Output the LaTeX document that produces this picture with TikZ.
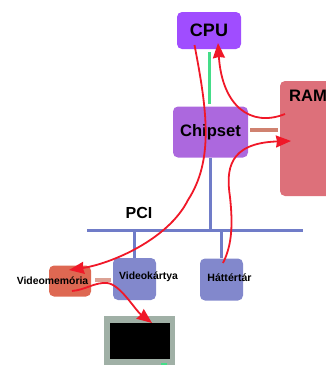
\documentclass[tikz,border=0pt]{standalone}
\usepackage{fontspec}
\setmainfont{Liberation Sans}
\usepackage{tikz}
\usetikzlibrary{arrows.meta}
\usepackage{xcolor}
\definecolor{cpuviolet}{RGB}{160,77,255}
\definecolor{chipviolet}{RGB}{172,104,222}
\definecolor{ramred}{RGB}{221,112,122}
\definecolor{cardblue}{RGB}{130,136,204}
\definecolor{busblue}{RGB}{112,124,200}
\definecolor{vmemred}{RGB}{222,104,82}
\definecolor{linkgreen}{RGB}{68,221,136}
\definecolor{linkorange}{RGB}{208,130,112}
\definecolor{framegray}{RGB}{160,176,166}
\definecolor{flowred}{RGB}{240,24,40}

\begin{document}
\begin{tikzpicture}[
  x=1pt, y=-1pt,
  box/.style={rounded corners=5pt, inner sep=0pt, font=\bfseries},
  lbl/.style={font=\bfseries, inner sep=0pt},
  bus/.style={busblue, line width=3pt},
  fsb/.style={linkgreen, line width=3pt},
  mem/.style={linkorange, line width=3.5pt},
  flow/.style={flowred, line width=1.8pt, -{Stealth[length=15pt,width=12pt,inset=1pt]}},
]
\useasboundingbox (0,0) rectangle (326,365);
%─── Boxes ───────────────────────────────────────────────
\node[box, fill=cpuviolet, minimum width=64pt, minimum height=37pt,
      font=\bfseries\fontsize{18}{18}\selectfont] (cpu) at (209,30.5) {CPU};
\node[box, fill=chipviolet, minimum width=75pt, minimum height=51pt,
      font=\bfseries\fontsize{16.6}{18}\selectfont] (chip) at (210.5,132) {Chipset};
\node[box, fill=ramred, minimum width=66pt, minimum height=115pt] (ram) at (313,138.5) {};
\node[lbl, anchor=base west, font=\bfseries\fontsize{16.6}{18}\selectfont] (ramlbl) at (289,101) {RAM};
\node[box, fill=cardblue, minimum width=43pt, minimum height=42pt] (vcard) at (134.5,279) {};
\node[box, fill=cardblue, minimum width=43pt, minimum height=42pt] (disk) at (221.5,279.5) {};
\node[box, fill=vmemred, minimum width=42pt, minimum height=31pt] (vmem) at (70,281) {};
%─── Bus ─────────────────────────────────────────────────
\coordinate (busl) at (87,230);
\coordinate (busr) at (303,230);
\coordinate (busc) at (210,230);
\coordinate (busv) at (134,230);
\coordinate (busd) at (221,230);
\draw[bus] (busl) -- (busr);
\draw[bus] (chip.south -| busc) -- (busc);
\draw[bus] (busv) -- (vcard.north -| busv);
\draw[bus] (busd) -- (disk.north -| busd);
\node[lbl, font=\bfseries\fontsize{16}{18}\selectfont] (pci) at (139,213) {PCI};
%─── Links ───────────────────────────────────────────────
\coordinate (fsba) at (209,52);
\coordinate (fsbb) at (209,104);
\draw[fsb] (fsba) -- (fsbb);
\coordinate (rlnka) at (250,130);
\coordinate (rlnkb) at (278,130);
\draw[mem] (rlnka) -- (rlnkb);
\coordinate (vlnka) at (95,280);
\coordinate (vlnkb) at (111,280);
\draw[mem, linkorange!75] (vlnka) -- (vlnkb);
%─── Monitor ─────────────────────────────────────────────
\node[fill=framegray, minimum width=71pt, minimum height=52pt, inner sep=0pt] (mon) at (139.5,342) {};
\node[fill=black, minimum width=60pt, minimum height=36pt, inner sep=0pt] (screen) at (140,341) {};
\node[fill=linkgreen, minimum width=6pt, minimum height=3pt, inner sep=0pt] (led) at (164,364) {};
%─── Small labels ────────────────────────────────────────
\node[lbl, font=\bfseries\fontsize{10.4}{12}\selectfont] (vmemlbl) at (52.5,280.5) {Videomemória};
\node[lbl, font=\bfseries\fontsize{10.4}{12}\selectfont] (vcardlbl) at (148.5,277) {Videokártya};
\node[lbl, font=\bfseries\fontsize{10.6}{12}\selectfont] (disklbl) at (229.5,277.5) {Háttértár};
%─── Data flow ───────────────────────────────────────────
\coordinate (cpuout) at (194.5,45);
\coordinate (cpumid) at (188,200);
\coordinate (vmemin) at (69,270);
\coordinate (ramout) at (285,114);
\coordinate (cpuin) at (218,43);
\coordinate (diskout) at (223,263);
\coordinate (diskmid) at (230,197);
\coordinate (ramin) at (291,141);
\coordinate (vmemout) at (72,291);
\coordinate (vmemmid) at (107,283);
\coordinate (monin) at (152,323);
\draw[flow] (cpuout) .. controls (207,110) and (214,160) .. (cpumid)
  .. controls (168,240) and (110,264) .. (vmemin);
\draw[flow] (ramout) .. controls (250,128) and (222,105) .. (cpuin);
\draw[flow] (diskout) .. controls (232,245) and (233,225) .. (diskmid)
  .. controls (226,170) and (228,143) .. (ramin);
\draw[flow] (vmemout) .. controls (85,290) and (95,282) .. (vmemmid)
  .. controls (120,284) and (135,310) .. (monin);
\end{tikzpicture}
\end{document}
